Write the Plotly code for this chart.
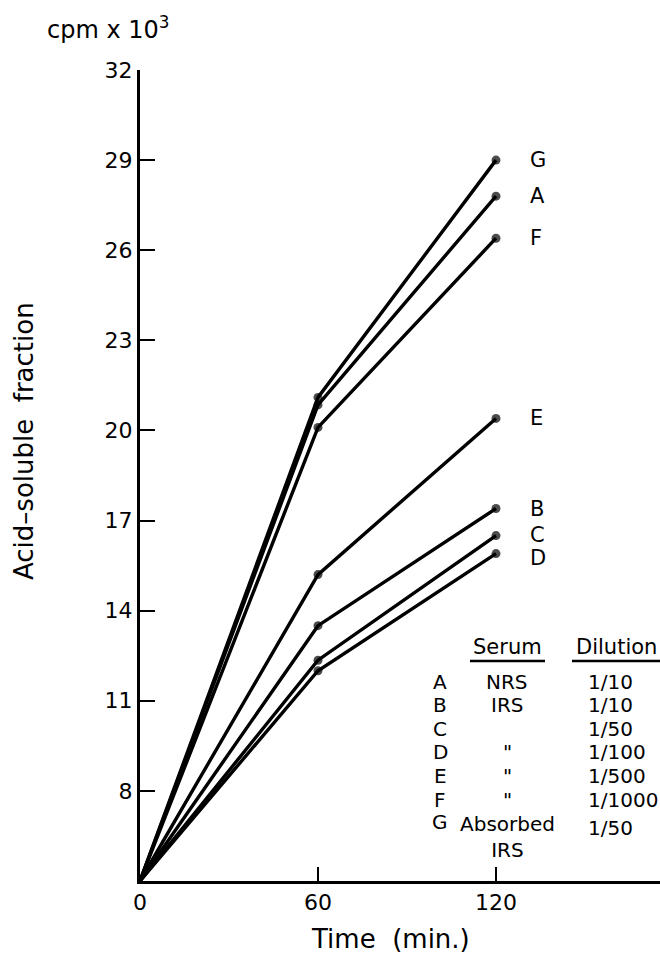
import plotly.graph_objects as go

# ---- data ----
times = [0, 60, 120]
start_value = 5.0
series_names = ["G", "A", "F", "E", "B", "C", "D"]
values_60 = [21.1, 20.85, 20.1, 15.2, 13.5, 12.35, 12.0]
values_120 = [29.0, 27.8, 26.4, 20.4, 17.4, 16.5, 15.9]
y_ticks = [8, 11, 14, 17, 20, 23, 26, 29, 32]
x_ticks = [0, 60, 120]
table_letters = ["A", "B", "C", "D", "E", "F", "G"]
table_serum = ["NRS", "IRS", "", "\"", "\"", "\"", "Absorbed<br>IRS"]
table_dilution = ["1/10", "1/10", "1/50", "1/100", "1/500", "1/1000", "1/50"]

W, H = 660, 956
L, R, T, B = 140, 0, 70, 75
PW, PH = W - L - R, H - T - B
FONT = "DejaVu Sans"


def px(xp):
    return (xp - L) / PW


def py(yp):
    return (H - B - yp) / PH


def text_at(x, y, text, size, xanchor="center", yanchor="middle", **kw):
    d = dict(x=px(x), y=py(y), xref="paper", yref="paper", text=text, showarrow=False,
             xanchor=xanchor, yanchor=yanchor,
             font=dict(size=size, color="black", family=FONT))
    d.update(kw)
    return d


fig = go.Figure()
for name, v60, v120 in zip(series_names, values_60, values_120):
    fig.add_trace(go.Scatter(
        x=times, y=[start_value, v60, v120], mode="lines+markers",
        line=dict(color="black", width=3.4),
        marker=dict(size=[0, 9, 9], color="black", line=dict(width=0)),
        showlegend=False, name=name, cliponaxis=False))

ann = []
label_shift = {"C": 1, "D": -4}
for name, v120 in zip(series_names, values_120):
    ann.append(dict(x=120, y=v120, xref="x", yref="y", text=name, showarrow=False,
                    xanchor="left", yanchor="middle", xshift=32,
                    yshift=label_shift.get(name, 0),
                    font=dict(size=21, color="black", family=FONT)))

ann.append(text_at(108, 28, "cpm x 10<sup>3</sup>", 24))
ann.append(text_at(24, 441, "Acid\u2013soluble  fraction", 26, textangle=-90))
ann.append(text_at(390, 939, "Time  (min.)", 26))

ann.append(text_at(507, 647, "Serum", 21))
ann.append(text_at(616, 647, "Dilution", 21))
row_y = [682, 705, 729, 752, 776, 800, 822]
for i, (let, ser, dil) in enumerate(zip(table_letters, table_serum, table_dilution)):
    yy = row_y[i]
    ann.append(text_at(440, yy, let, 20))
    if ser:
        if "<br>" in ser:
            ann.append(text_at(507, yy - 12, ser, 20, yanchor="top"))
        else:
            ann.append(text_at(507, yy, ser, 20))
    ann.append(text_at(586, yy + (6 if i == 6 else 0), dil, 20, xanchor="left"))

shapes = [
    dict(type="line", xref="paper", yref="paper", x0=px(470), x1=px(545), y0=py(661), y1=py(661),
         line=dict(color="black", width=2.5)),
    dict(type="line", xref="paper", yref="paper", x0=px(572), x1=px(660), y0=py(661), y1=py(661),
         line=dict(color="black", width=2.5)),
]

fig.update_layout(
    width=W, height=H, margin=dict(l=L, r=R, t=T, b=B),
    paper_bgcolor="white", plot_bgcolor="white",
    annotations=ann, shapes=shapes,
    font=dict(family=FONT, color="black", size=20),
    xaxis=dict(range=[0, PW / (178 / 60)], tickvals=x_ticks, ticktext=["0", "60", "120"],
               showgrid=False, zeroline=False, showline=True, linecolor="black", linewidth=3,
               ticks="inside", ticklen=14, tickwidth=2, tickcolor="black",
               tickfont=dict(size=22, family=FONT)),
    yaxis=dict(range=[5, 32], tickvals=y_ticks, showgrid=False, zeroline=False,
               showline=True, linecolor="black", linewidth=3,
               ticks="inside", ticklen=15, tickwidth=2, tickcolor="black",
               tickfont=dict(size=22, family=FONT)),
)

fig.write_html("out.html")
